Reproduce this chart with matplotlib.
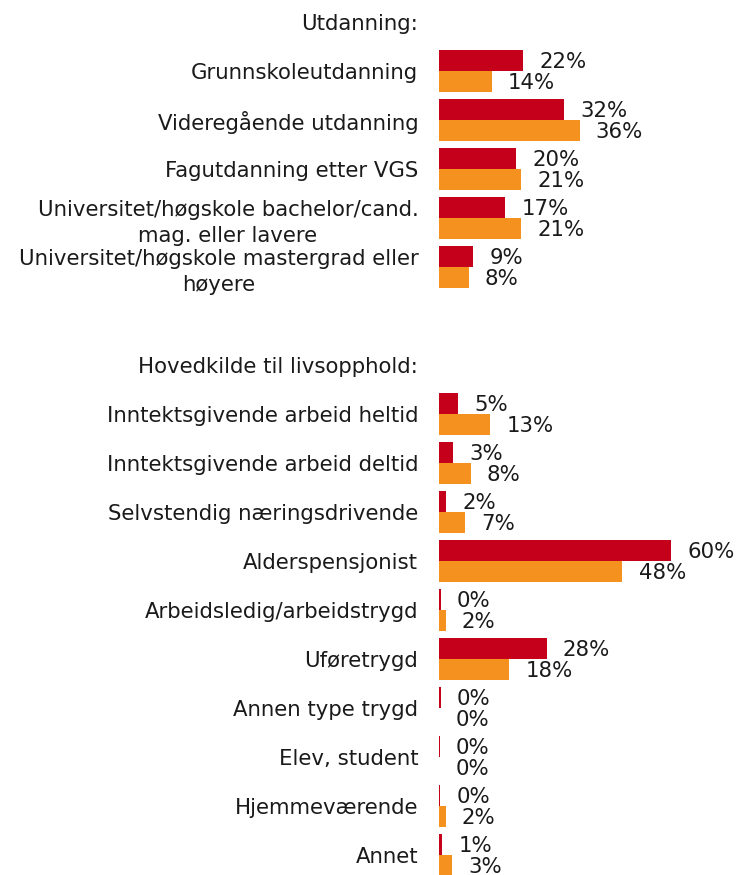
import matplotlib
matplotlib.use("Agg")
import matplotlib.pyplot as plt

# ---- data ----
header1 = "Utdanning:"
cats1 = ["Grunnskoleutdanning", "Videregående utdanning", "Fagutdanning etter VGS",
         "Universitet/høgskole bachelor/cand.\nmag. eller lavere",
         "Universitet/høgskole mastergrad eller\nhøyere"]
red1 = [21.6, 32.2, 19.8, 17.0, 8.8]
orange1 = [13.6, 36.2, 21.1, 21.1, 7.6]
red1_lbl = ["22%", "32%", "20%", "17%", "9%"]
orange1_lbl = ["14%", "36%", "21%", "21%", "8%"]

header2 = "Hovedkilde til livsopphold:"
cats2 = ["Inntektsgivende arbeid heltid", "Inntektsgivende arbeid deltid",
         "Selvstendig næringsdrivende", "Alderspensjonist", "Arbeidsledig/arbeidstrygd",
         "Uføretrygd", "Annen type trygd", "Elev, student", "Hjemmeværende", "Annet"]
red2 = [4.9, 3.5, 1.7, 59.8, 0.4, 27.7, 0.4, 0.1, 0.2, 0.8]
orange2 = [13.1, 8.1, 6.6, 47.2, 1.6, 18.0, 0.0, 0.0, 1.6, 3.3]
red2_lbl = ["5%", "3%", "2%", "60%", "0%", "28%", "0%", "0%", "0%", "1%"]
orange2_lbl = ["13%", "8%", "7%", "48%", "2%", "18%", "0%", "0%", "2%", "3%"]

RED = "#C5001A"
ORANGE = "#F5921F"
TXT = "#1a1a1a"
FS = 15.3

W, H = 741, 875
fig = plt.figure(figsize=(W / 100, H / 100), dpi=100)
x0 = 439.3
ax = fig.add_axes([x0 / W, 0, 1 - x0 / W, 1])

# slot layout: header, group1, blank, header, group2
slot_h = 49.0
pos_h1 = 0
pos1 = list(range(1, 1 + len(cats1)))
pos_h2 = pos1[-1] + 2
pos2 = list(range(pos_h2 + 1, pos_h2 + 1 + len(cats2)))

h = 0.43
def draw(pos, red, orange, rl, ol):
    ax.barh([p - h / 2 for p in pos], red, height=h, color=RED, linewidth=0)
    ax.barh([p + h / 2 for p in pos], orange, height=h, color=ORANGE, linewidth=0)
    for p, v, t in zip(pos, red, rl):
        ax.annotate(t, xy=(v, p - h / 2), xytext=(11.6, -1.0), textcoords="offset points",
                    va="center", ha="left", fontsize=FS, color=TXT)
    for p, v, t in zip(pos, orange, ol):
        ax.annotate(t, xy=(v, p + h / 2), xytext=(11.6, -1.0), textcoords="offset points",
                    va="center", ha="left", fontsize=FS, color=TXT)

draw(pos1, red1, orange1, red1_lbl, orange1_lbl)
draw(pos2, red2, orange2, red2_lbl, orange2_lbl)

px_per_pct = 3.88
ax.set_xlim(0, (W - x0) / px_per_pct)
top_px = 22.0
ax.set_ylim((H - top_px) / slot_h, -top_px / slot_h)

ticks = [pos_h1] + pos1 + [pos_h2] + pos2
labels = [header1] + cats1 + [header2] + cats2
ax.set_yticks(ticks)
ax.set_yticklabels(labels, fontsize=FS, color=TXT)
for lab in ax.get_yticklabels():
    lab.set_multialignment("center")
    lab.set_linespacing(1.4)
ax.tick_params(axis="y", length=0, pad=15.1)
ax.set_xticks([])
for s in ax.spines.values():
    s.set_visible(False)
ax.patch.set_alpha(0)

fig.savefig("out.png", dpi=100)
